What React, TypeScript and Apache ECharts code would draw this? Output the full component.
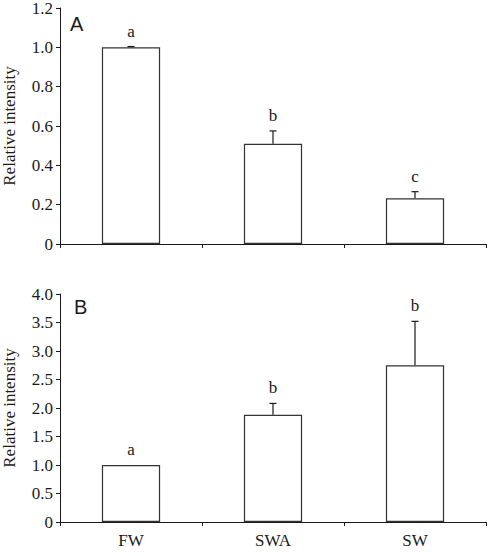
import React, { useEffect, useRef } from "react";
import * as echarts from "echarts";

const categories = ["FW", "SWA", "SW"];
const meanA = [1.0, 0.51, 0.232];
const errA = [0.004, 0.065, 0.034];
const lettersA = ["a", "b", "c"];
const meanB = [1.0, 1.88, 2.75];
const errB = [0, 0.2, 0.77];
const lettersB = ["a", "b", "b"];
const ticksA = { min: 0, max: 1.2, interval: 0.2 };
const ticksB = { min: 0, max: 4.0, interval: 0.5 };

const SERIF = "Liberation Serif";
const SANS = "Liberation Sans";
const INK = "#1a1a1a";

function errSeries(idx: number, means: number[], errs: number[], letters: string[]) {
  return {
    type: "custom",
    xAxisIndex: idx,
    yAxisIndex: idx,
    silent: true,
    z: 5,
    data: means.map((m, i) => [i, m, errs[i], letters[i]]),
    renderItem: (params: any, api: any) => {
      const i = api.value(0);
      const m = api.value(1);
      const e = api.value(2);
      const base = api.coord([i, m]);
      const top = api.coord([i, m + e]);
      const children: any[] = [];
      if (e > 0) {
        children.push({
          type: "line",
          shape: { x1: top[0], y1: base[1], x2: top[0], y2: top[1] },
          style: { stroke: INK, lineWidth: 1.2 },
        });
        children.push({
          type: "line",
          shape: { x1: top[0] - 3.5, y1: top[1], x2: top[0] + 3.5, y2: top[1] },
          style: { stroke: INK, lineWidth: 1.2 },
        });
      }
      children.push({
        type: "text",
        x: top[0],
        y: top[1] - 7,
        style: {
          text: letters[i],
          align: "center",
          verticalAlign: "bottom",
          fontSize: 17,
          fontFamily: SERIF,
          fill: INK,
        },
      });
      return { type: "group", children };
    },
  };
}

export default function App() {
  const ref = useRef<HTMLDivElement>(null);
  useEffect(() => {
    if (!ref.current) return;
    const chart = echarts.init(ref.current, undefined, { renderer: "svg" });
    const fmt = (v: number) => (v === 0 ? "0" : v.toFixed(1));
    const yAxisBase = (t: any) => ({
      type: "value",
      min: t.min,
      max: t.max,
      interval: t.interval,
      name: "Relative intensity",
      nameLocation: "middle",
      nameGap: 42,
      nameTextStyle: { fontFamily: SERIF, fontSize: 17, color: INK },
      axisLine: { show: true, lineStyle: { color: INK, width: 1 } },
      axisTick: { show: true, length: 4, lineStyle: { color: INK } },
      axisLabel: { formatter: fmt, fontFamily: SERIF, fontSize: 17, color: INK, margin: 7 },
      splitLine: { show: false },
    });
    const xAxisBase = (showLabels: boolean) => ({
      type: "category",
      data: categories,
      boundaryGap: true,
      axisLine: { show: true, lineStyle: { color: INK, width: 1 } },
      axisTick: { show: true, length: 4, alignWithLabel: false, lineStyle: { color: INK } },
      axisLabel: { show: showLabels, fontFamily: SERIF, fontSize: 17, color: INK, margin: 10 },
    });
    chart.setOption({
      animation: false,
      textStyle: { fontFamily: SERIF },
      grid: [
        { left: 60, top: 8, width: 426, height: 236, containLabel: false, outerBoundsMode: "none" },
        { left: 60, top: 294, width: 426, height: 228, containLabel: false, outerBoundsMode: "none" },
      ],
      xAxis: [
        { ...xAxisBase(false), gridIndex: 0 },
        { ...xAxisBase(true), gridIndex: 1 },
      ],
      yAxis: [
        { ...yAxisBase(ticksA), gridIndex: 0 },
        { ...yAxisBase(ticksB), gridIndex: 1 },
      ],
      series: [
        {
          type: "bar",
          xAxisIndex: 0,
          yAxisIndex: 0,
          data: meanA,
          barWidth: "41%",
          itemStyle: { color: "#ffffff", borderColor: "#333333", borderWidth: 1.2 },
        },
        errSeries(0, meanA, errA, lettersA),
        {
          type: "bar",
          xAxisIndex: 1,
          yAxisIndex: 1,
          data: meanB,
          barWidth: "41%",
          itemStyle: { color: "#ffffff", borderColor: "#333333", borderWidth: 1.2 },
        },
        errSeries(1, meanB, errB, lettersB),
      ],
      graphic: [
        {
          type: "text",
          left: 70,
          top: 14,
          style: { text: "A", fontFamily: SANS, fontSize: 20, fill: INK },
        },
        {
          type: "text",
          left: 74,
          top: 297,
          style: { text: "B", fontFamily: SANS, fontSize: 20, fill: INK },
        },
      ],
    });
    return () => chart.dispose();
  }, []);
  return (
    <div
      ref={ref}
      style={{ position: "absolute", left: 0, top: 0, width: 490, height: 556 }}
    />
  );
}
